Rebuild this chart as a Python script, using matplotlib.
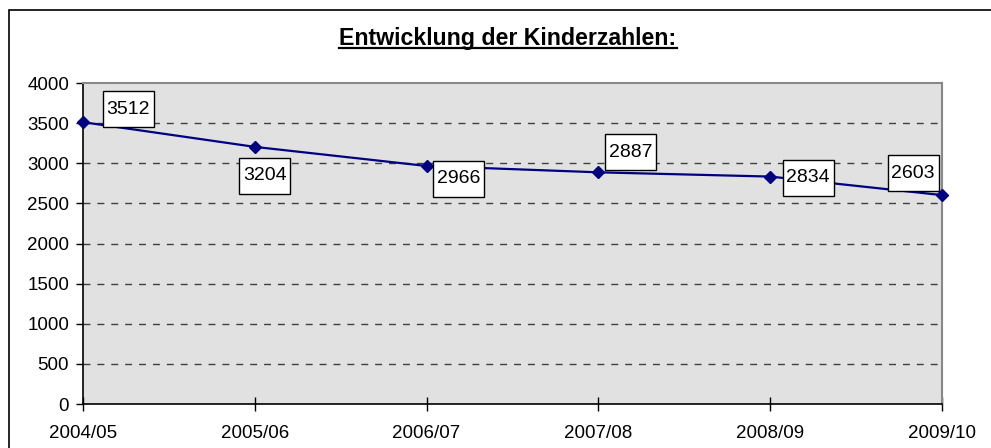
import matplotlib
matplotlib.use("Agg")
import matplotlib.pyplot as plt
from matplotlib.patches import Rectangle
from matplotlib.lines import Line2D
from matplotlib.transforms import IdentityTransform

plt.rcParams['font.family'] = ['Liberation Sans', 'DejaVu Sans']

# data
seasons = ["2004/05", "2005/06", "2006/07", "2007/08", "2008/09", "2009/10"]
kinder = [3512, 3204, 2966, 2887, 2834, 2603]
y_ticks = [0, 500, 1000, 1500, 2000, 2500, 3000, 3500, 4000]
title = "Entwicklung der Kinderzahlen:"

# label box offsets in pixels (dx, dy) from each point, box size in px
label_offsets = [(45, 13), (10, -29), (32, -13), (32, 20), (38, -1), (-29, 22)]
box_w, box_h = 51, 36

W, H = 991, 448
fig = plt.figure(figsize=(W / 100, H / 100), dpi=100)
fig.patch.set_facecolor('white')

# outer chart border (only left/top visible in the crop)
fig.add_artist(Rectangle((9 / W, -0.2), 1.2, 1.2 - 10 / H,
                         transform=fig.transFigure, fill=False,
                         edgecolor='black', linewidth=1.2, clip_on=False))

ax = fig.add_axes([83 / W, 1 - 404 / H, (942 - 83) / W, (404 - 83) / H])
ax.set_facecolor('#E1E1E1')

x = list(range(len(seasons)))
ax.plot(x, kinder, color='#000080', linewidth=1.6, marker='D',
        markersize=6.5, markeredgecolor='#000080', markerfacecolor='#000080',
        zorder=3, clip_on=False)

ax.set_xlim(0, len(seasons) - 1)
ax.set_ylim(0, 4000)
ax.set_yticks(y_ticks)
ax.set_xticks(x)
ax.set_xticklabels(seasons)

for v in y_ticks[1:-1]:
    ax.axhline(v, color='#404040', linewidth=1, linestyle=(0, (5, 5)), zorder=1)

for side in ['left', 'bottom']:
    ax.spines[side].set_color('black')
    ax.spines[side].set_linewidth(1.2)
for side in ['top', 'right']:
    ax.spines[side].set_color('#888888')
    ax.spines[side].set_linewidth(1.5)

ax.tick_params(axis='y', direction='out', length=5, width=1, labelsize=13.5, pad=5)
ax.tick_params(axis='x', direction='inout', length=10, width=1, labelsize=13.5, pad=10)

# data labels in white boxes
ident = IdentityTransform()
for xi, val, (dx, dy) in zip(x, kinder, label_offsets):
    px, py = ax.transData.transform((xi, val))
    cx, cy = px + dx, py + dy
    ax.add_artist(Rectangle((cx - box_w / 2, cy - box_h / 2), box_w, box_h,
                            transform=ident, facecolor='white',
                            edgecolor='black', linewidth=1, zorder=4,
                            clip_on=False))
    ax.text(cx, cy, str(val), transform=ident, ha='center', va='center',
            fontsize=14, zorder=5, clip_on=False)

t = fig.text(508 / W, 1 - 38 / H, title, ha='center', va='center',
             fontsize=16.7, fontweight='bold')

# underline the title
fig.canvas.draw()
bb = t.get_window_extent()
uy = bb.y0 + 1
fig.add_artist(Line2D([bb.x0 / W, bb.x1 / W], [uy / H, uy / H],
                      transform=fig.transFigure, color='black', linewidth=1.6))

fig.savefig('out.png', dpi=100)
